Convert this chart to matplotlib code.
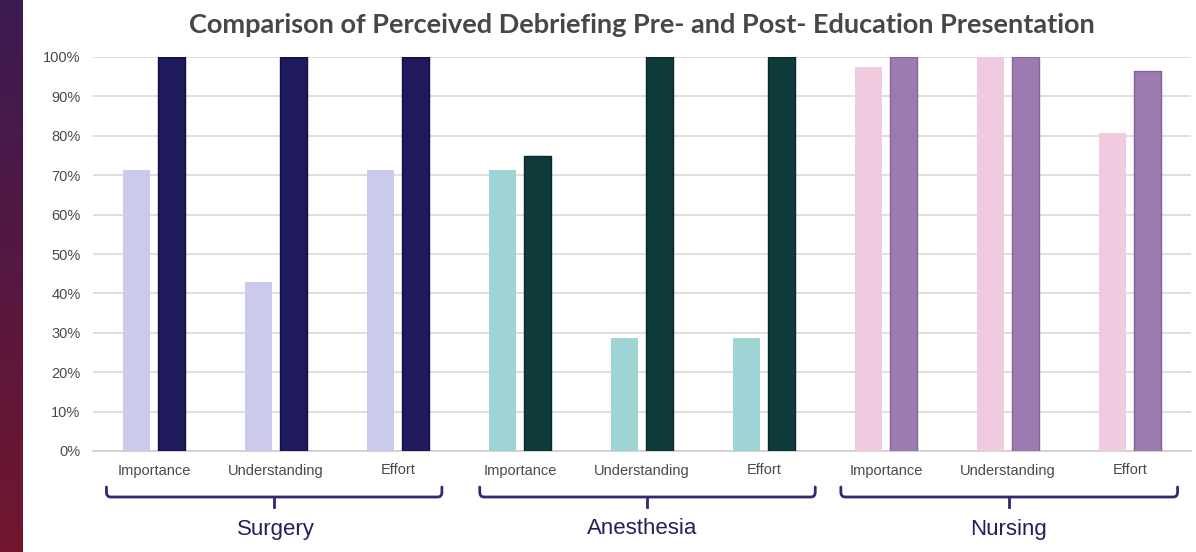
import matplotlib
matplotlib.use("Agg")
import matplotlib.pyplot as plt
import numpy as np
from matplotlib.path import Path
from matplotlib.patches import PathPatch
from matplotlib.transforms import blended_transform_factory

groups = ["Surgery", "Anesthesia", "Nursing"]
measures = ["Importance", "Understanding", "Effort"]

# percent answering positively, before / after the presentation
surgery_pre = [71.4, 42.9, 71.4]
surgery_post = [100, 100, 100]
anesthesia_pre = [71.4, 28.6, 28.6]
anesthesia_post = [75, 100, 100]
nursing_pre = [97.4, 100, 80.8]
nursing_post = [100, 100, 96.5]

pre_colors = ["#cacaeb", "#9fd4d4", "#f0cadf"]
post_colors = ["#1e1a5c", "#0f3a3c", "#9b7bb0"]
post_edges = ["#120f45", "#082829", "#83639a"]

pre = [surgery_pre, anesthesia_pre, nursing_pre]
post = [surgery_post, anesthesia_post, nursing_post]

fig = plt.figure(figsize=(11.96, 5.52), dpi=100)
W, H = 1196, 552
ax = fig.add_axes([93 / W, 1 - 451 / H, (1191 - 93) / W, (451 - 57) / H])

# dark gradient strip down the left edge
strip = fig.add_axes([0, 0, 22 / W, 1])
grad = np.linspace(0, 1, 256)[:, None]
top = np.array([0x3b, 0x1a, 0x52]) / 255
bot = np.array([0x72, 0x16, 0x2e]) / 255
img = top[None, None, :] * (1 - grad[:, :, None]) + bot[None, None, :] * grad[:, :, None]
strip.imshow(img, aspect="auto", extent=[0, 1, 0, 1])
strip.axis("off")

w = 0.225
off = 0.143
for g in range(3):
    xs = np.arange(3) + 3 * g
    ax.bar(xs - off, pre[g], w, color=pre_colors[g], zorder=3)
    ax.bar(xs + off, post[g], w, color=post_colors[g],
           edgecolor=post_edges[g], linewidth=1.0, zorder=3)

ax.set_xlim(-0.5, 8.5)
ax.set_ylim(0, 100)
ax.set_yticks(np.arange(0, 101, 10))
ax.set_yticklabels([f"{v}%" for v in range(0, 101, 10)])
ax.set_xticks(np.arange(9))
ax.set_xticklabels(measures * 3)
ax.tick_params(length=0, labelsize=10.5, labelcolor="#4a4a4a")
ax.tick_params(axis="y", pad=9)
ax.tick_params(axis="x", pad=9)
for lab in ax.get_xticklabels() + ax.get_yticklabels():
    lab.set_family(["Liberation Sans", "DejaVu Sans"])
ax.grid(axis="y", color="#dcdcdc", linewidth=1.3, zorder=0)
for s in ["top", "right", "left"]:
    ax.spines[s].set_visible(False)
ax.spines["bottom"].set_color("#d0d0d0")
ax.spines["bottom"].set_linewidth(1.3)

# group brackets under the tick labels (x extents in category units)
bracket_spans = [(-0.39, 2.36), (2.67, 5.42), (5.63, 8.39)]
tr = blended_transform_factory(ax.transData, fig.transFigure)
y_top = 1 - 487 / H
y_mid = 1 - 497 / H
y_tip = 1 - 507 / H
rx, ry = 0.035, 5 / H
for g, name in enumerate(groups):
    x0, x1 = bracket_spans[g]
    c = (x0 + x1) / 2
    verts = [(x0, y_top), (x0, y_mid + ry), (x0, y_mid), (x0 + rx, y_mid),
             (x1 - rx, y_mid), (x1, y_mid), (x1, y_mid + ry), (x1, y_top)]
    codes = [Path.MOVETO, Path.LINETO, Path.CURVE3, Path.CURVE3,
             Path.LINETO, Path.CURVE3, Path.CURVE3, Path.LINETO]
    fig.add_artist(PathPatch(Path(verts, codes), transform=tr, fill=False,
                             edgecolor="#2f2b6e", linewidth=2, capstyle="round"))
    fig.add_artist(plt.Line2D([c, c], [y_mid, y_tip], transform=tr,
                              color="#2f2b6e", linewidth=2))
    fig.text(3 * g + 1, 1 - 529 / H, name, transform=tr, ha="center", va="center",
             fontsize=16, color="#22205a", family=["Liberation Sans", "DejaVu Sans"])

fig.text(642 / W, 1 - 25 / H,
         "Comparison of Perceived Debriefing Pre- and Post- Education Presentation",
         ha="center", va="center", fontsize=19.5, fontweight="bold",
         color="#474747", family=["Lato", "DejaVu Sans"])

fig.savefig("out.png", dpi=100)
